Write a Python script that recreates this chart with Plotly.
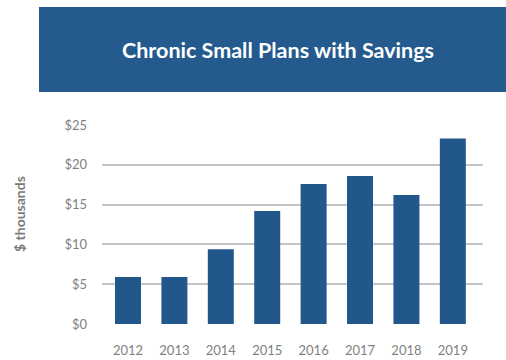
import plotly.graph_objects as go

years = ["2012", "2013", "2014", "2015", "2016", "2017", "2018", "2019"]
savings = [5.9, 5.9, 9.4, 14.2, 17.6, 18.6, 16.2, 23.3]
y_ticks = [0, 5, 10, 15, 20, 25]
y_tick_labels = ["$0", "$5", "$10", "$15", "$20", "$25"]
title_text = "Chronic Small Plans with Savings"
y_title = "$ thousands"

fig = go.Figure()
fig.add_trace(go.Bar(
    x=list(range(len(years))), y=savings,
    width=0.56, marker=dict(color="#22578c", line=dict(width=0)),
    hoverinfo="skip",
))

L, R, T, B = 102, 23, 125, 36
W, H = 506, 360
pw, ph = W - L - R, H - T - B

def px(x):
    return (x - L) / pw

def py(y):
    return (H - B - y) / ph

fig.add_shape(type="rect", xref="paper", yref="paper",
              x0=px(39), x1=px(506), y0=py(92), y1=py(7),
              fillcolor="#245a8e", line=dict(width=0), layer="below")
fig.add_annotation(text="<b>" + title_text + "</b>", xref="paper", yref="paper",
                   x=px(278), y=py(50), showarrow=False,
                   font=dict(family="Lato", size=21.5, color="white"),
                   xanchor="center", yanchor="middle")
fig.add_annotation(text="<b>" + y_title + "</b>", xref="paper", yref="paper",
                   x=px(19), y=py(214), showarrow=False, textangle=-90,
                   font=dict(family="Lato", size=14, color="#7a7a7a"),
                   xanchor="center", yanchor="middle")

fig.update_layout(
    width=W, height=H,
    margin=dict(l=L, r=R, t=T, b=B, autoexpand=False),
    paper_bgcolor="white", plot_bgcolor="white",
    showlegend=False,
    font=dict(family="Lato", color="#7f7f7f", size=13),
    xaxis=dict(range=[-0.56, 7.65], tickmode="array",
               tickvals=list(range(len(years))), ticktext=years,
               showgrid=False, zeroline=False, showline=False,
               ticks="", ticklabelstandoff=17, fixedrange=True, automargin=False),
    yaxis=dict(range=[0, 25], tickmode="array", tickvals=y_ticks,
               ticktext=y_tick_labels, showgrid=True, gridcolor="#c4c4c4",
               gridwidth=1.6, zeroline=False, showline=False, ticks="",
               ticklabelstandoff=14, fixedrange=True, automargin=False),
)
fig.update_yaxes(layer="below traces")

fig.write_html("out.html")
